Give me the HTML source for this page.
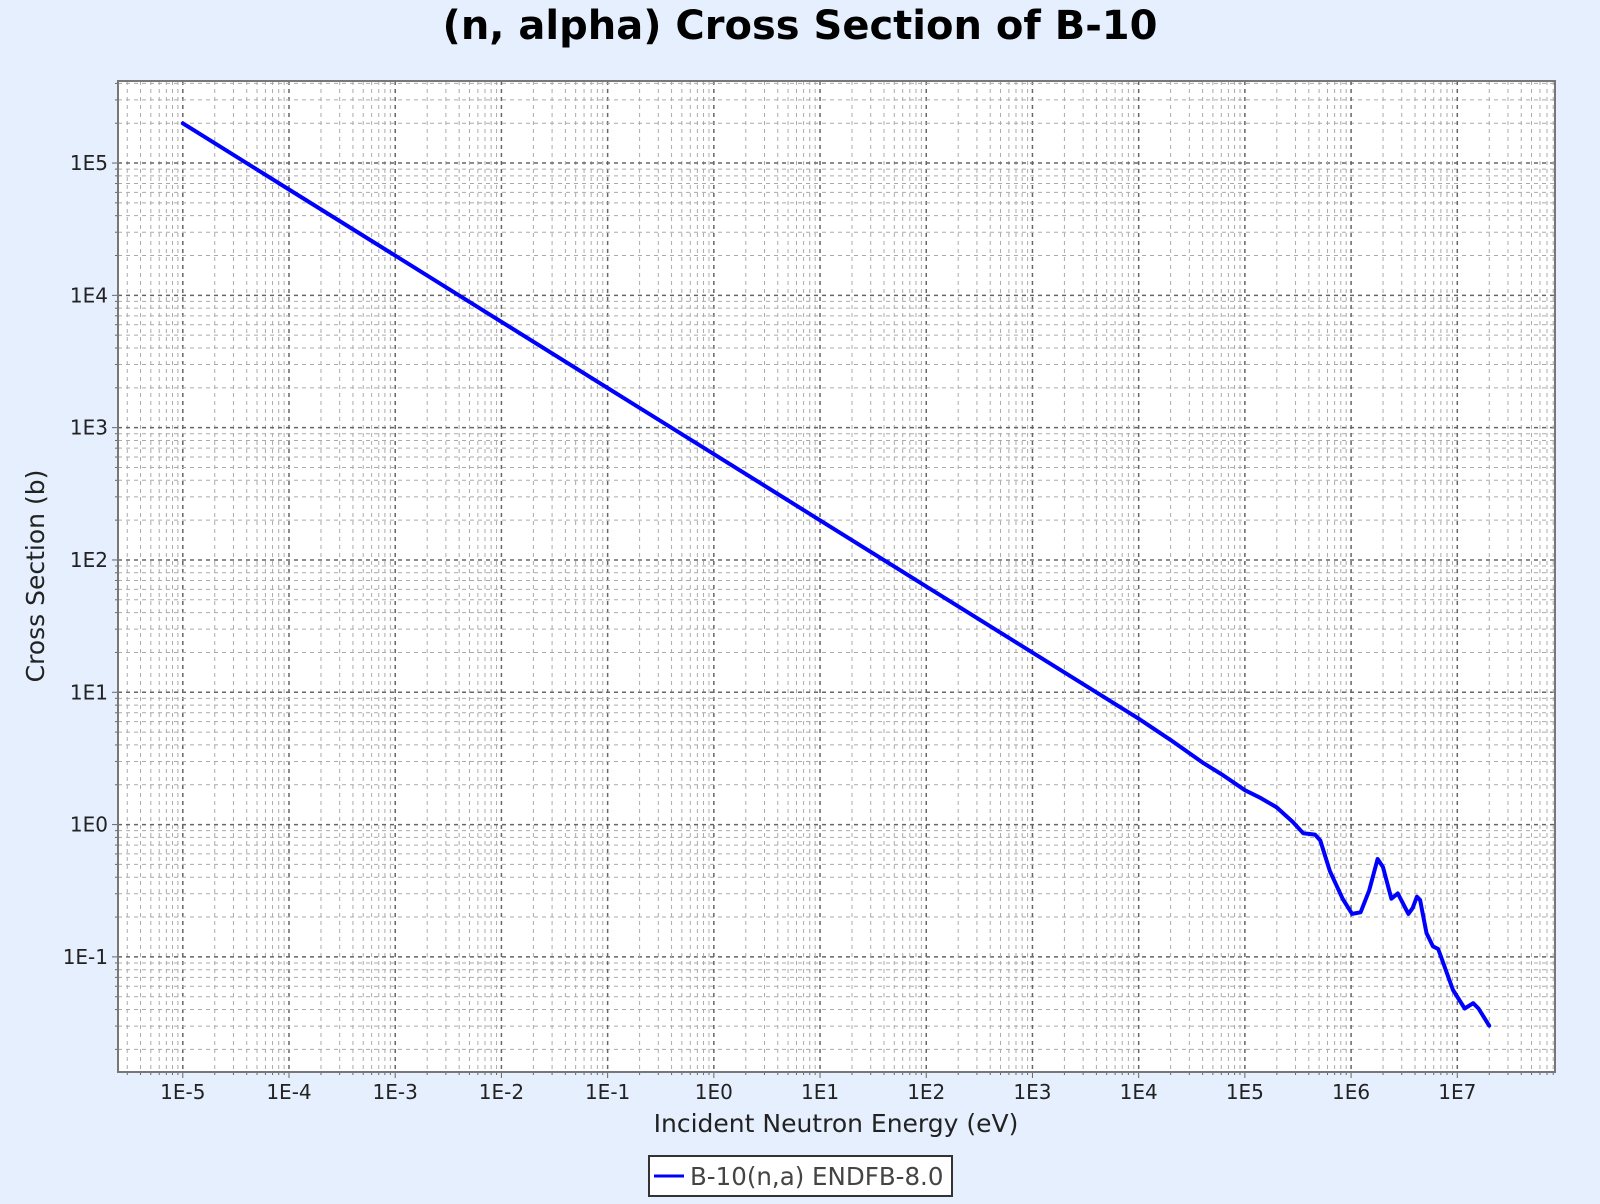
<!DOCTYPE html>
<html><head><meta charset="utf-8"><style>
html,body{margin:0;padding:0;background:#e6effd;}
body{width:1600px;height:1200px;position:relative;overflow:hidden;font-family:"DejaVu Sans","Liberation Sans",sans-serif;}
</style></head><body>
<svg id="chart" width="1600" height="1200" xmlns="http://www.w3.org/2000/svg">
<rect x="0" y="0" width="1600" height="1200" fill="#e6effd"/>
<text x="800" y="39" text-anchor="middle" font-size="40" font-weight="bold" fill="#000" font-family="DejaVu Sans, sans-serif">(n, alpha) Cross Section of B-10</text>
<g id="plot"></g>
<text x="836" y="1132" text-anchor="middle" font-size="25" fill="#222" font-family="DejaVu Sans, sans-serif">Incident Neutron Energy (eV)</text>
<text transform="translate(44,576) rotate(-90)" text-anchor="middle" font-size="25" fill="#222" font-family="DejaVu Sans, sans-serif">Cross Section (b)</text>
<g>
<rect x="649" y="1156" width="303" height="40" fill="#fff" stroke="#333" stroke-width="2"/>
<line x1="654" y1="1176" x2="684" y2="1176" stroke="#0000ff" stroke-width="3"/>
<text x="690" y="1185" font-size="24.5" fill="#444" font-family="DejaVu Sans, sans-serif">B-10(n,a) ENDFB-8.0</text>
</g>
</svg>
<script>
const xTickExps = [-5,-4,-3,-2,-1,0,1,2,3,4,5,6,7];
const yTickExps = [-1,0,1,2,3,4,5];
const logEnergy = [-5,-4,-3,-2,-1,0,1,2,3,4,4.3,4.6,4.8,5,5.15,5.3,5.45,5.55,5.66,5.71,5.8,5.92,6.01,6.09,6.17,6.25,6.3,6.38,6.44,6.54,6.58,6.62,6.65,6.71,6.77,6.82,6.96,7.07,7.15,7.2,7.3];
const logXS = [5.3,4.8,4.3,3.8,3.3,2.8,2.3,1.8,1.3,0.8,0.64,0.47,0.37,0.26,0.2,0.13,0.02,-0.066,-0.076,-0.12,-0.35,-0.56,-0.675,-0.663,-0.5,-0.26,-0.32,-0.56,-0.52,-0.675,-0.63,-0.545,-0.57,-0.82,-0.92,-0.94,-1.25,-1.39,-1.35,-1.39,-1.52];

const L=118,R=1555,T=81,B=1072;
const xMin=-5.61,xMax=7.92,yMin=-1.87,yMax=5.62;
const sx=v=>L+(v-xMin)/(xMax-xMin)*(R-L);
const sy=v=>B-(v-yMin)/(yMax-yMin)*(B-T);
const NS="http://www.w3.org/2000/svg";
const plot=document.getElementById('plot');
function mk(tag,attrs,parent){const e=document.createElementNS(NS,tag);for(const k in attrs)e.setAttribute(k,attrs[k]);(parent||plot).appendChild(e);return e;}

const bg=mk('rect',{x:L,y:T,width:R-L,height:B-T,fill:'#fff'});



const grid=mk('g',{});


for(let d=-6;d<=8;d++){for(let m=1;m<=9;m++){const v=d+Math.log10(m);
  if(v>xMin&&v<xMax){const x=sx(v);mk('line',{x1:x,x2:x,y1:T,y2:B,stroke:m==1?'#666':'#aaa','stroke-width':m==1?1.5:1,'stroke-dasharray':'4,4'},grid);
    mk('line',{x1:x,x2:x,y1:B,y2:B+(m==1?6:3),stroke:'#666'},grid);}
  if(v>yMin&&v<yMax){const y=sy(v);mk('line',{x1:L,x2:R,y1:y,y2:y,stroke:m==1?'#666':'#aaa','stroke-width':m==1?1.5:1,'stroke-dasharray':'4,4'},grid);
    mk('line',{x1:L-(m==1?6:3),x2:L,y1:y,y2:y,stroke:'#666'},grid);}
}}
const frame=mk('rect',{x:L,y:T,width:R-L,height:B-T,fill:'none',stroke:'#777','stroke-width':2});



xTickExps.forEach(e=>{const t=mk('text',{x:sx(e),y:1099,'text-anchor':'middle','font-size':20,fill:'#222','font-family':'DejaVu Sans, sans-serif'});t.textContent='1E'+e;
  
  });
yTickExps.forEach(e=>{const t=mk('text',{x:L-10,y:sy(e)+7,'text-anchor':'end','font-size':20,fill:'#222','font-family':'DejaVu Sans, sans-serif'});t.textContent='1E'+e;
  
  });

let d='';logEnergy.forEach((v,i)=>{d+=(i?'L':'M')+sx(v).toFixed(1)+','+sy(logXS[i]).toFixed(1);});
const line=mk('path',{d:d,fill:'none',stroke:'#0000ff','stroke-width':4,'stroke-linejoin':'round','stroke-linecap':'round'});


</script>
</body></html>
